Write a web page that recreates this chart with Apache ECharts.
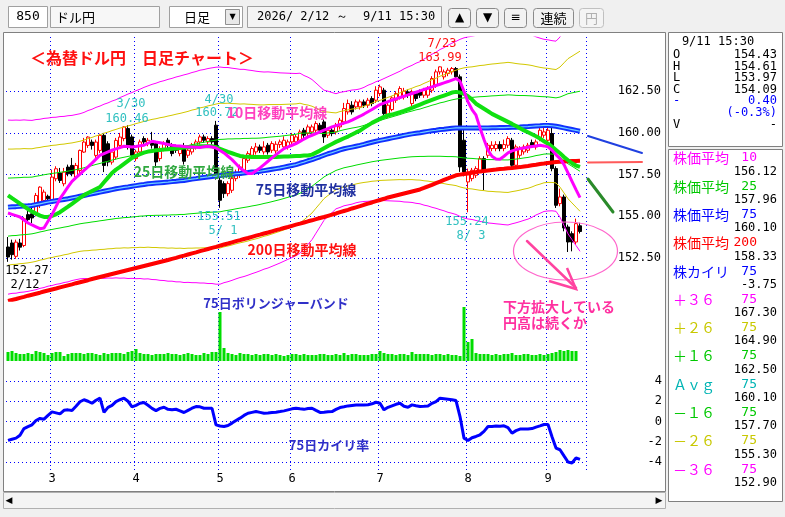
<!DOCTYPE html>
<html><head><meta charset="utf-8">
<script src="https://cdn.jsdelivr.net/npm/echarts@6/dist/echarts.min.js"></script>
<style>html,body{margin:0;padding:0;background:#f0f0f0;overflow:hidden}#c{width:785px;height:517px}</style>
</head><body><div id="c"></div><script>
const dates = ['2/12','2/13','2/16','2/17','2/18','2/19','2/20','2/24','2/25','2/26','2/27',
'3/2','3/3','3/4','3/5','3/6','3/9','3/10','3/11','3/12','3/13','3/16','3/17','3/18','3/19','3/23','3/24','3/25','3/26','3/27','3/30','3/31',
'4/1','4/2','4/3','4/6','4/7','4/8','4/9','4/10','4/13','4/14','4/15','4/16','4/17','4/20','4/21','4/22','4/23','4/24','4/27','4/28','4/30',
'5/1','5/7','5/8','5/11','5/12','5/13','5/14','5/15','5/18','5/19','5/20','5/21','5/22','5/25','5/26','5/27','5/28','5/29',
'6/1','6/2','6/3','6/4','6/5','6/8','6/9','6/10','6/11','6/12','6/15','6/16','6/17','6/18','6/19','6/22','6/23','6/24','6/25','6/26','6/29','6/30',
'7/1','7/2','7/3','7/6','7/7','7/8','7/9','7/10','7/13','7/14','7/15','7/16','7/17','7/21','7/22','7/23','7/24','7/27','7/28','7/29','7/30','7/31',
'8/3','8/4','8/5','8/6','8/7','8/10','8/12','8/13','8/14','8/17','8/18','8/19','8/20','8/21','8/24','8/25','8/26','8/27','8/28','8/31',
'9/1','9/2','9/3','9/4','9/7','9/8','9/9','9/10','9/11'];

const open = [153.16,153.40,152.60,153.40,153.25,155.10,155.15,155.15,155.75,155.95,
156.20,155.95,157.25,157.60,156.95,157.95,158.05,157.35,157.75,158.85,
159.25,159.45,158.65,158.95,159.85,159.35,158.25,158.55,159.25,159.66,
160.26,159.76,158.46,158.86,159.66,159.36,159.46,159.36,158.46,159.06,
159.56,159.26,159.16,158.76,159.20,158.66,158.86,159.16,159.46,159.76,
159.46,159.66,160.46,157.16,156.96,156.36,156.56,157.26,157.46,157.76,
158.36,158.66,158.86,159.16,158.86,159.26,158.96,158.92,159.30,159.16,
159.16,159.46,159.46,159.56,160.16,159.96,160.06,160.16,160.46,160.66,
159.86,160.16,160.06,160.36,160.66,161.26,161.66,161.56,161.56,161.86,
161.66,162.06,161.96,162.36,162.56,161.06,161.40,161.96,162.16,162.16,
162.46,161.76,162.36,162.46,162.26,162.26,162.56,162.86,163.66,163.36,
163.56,163.66,163.86,163.36,159.56,157.06,157.26,157.46,157.76,158.46,
158.66,159.06,159.06,159.30,159.06,159.26,159.56,158.06,158.66,158.86,
158.96,159.42,159.16,159.66,159.86,159.56,159.96,157.86,155.76,156.16,
154.36,153.96,153.46,154.43];
const close = [152.56,152.70,153.45,153.15,154.85,154.80,154.90,156.25,156.75,156.45,
156.05,157.35,157.85,157.15,157.65,157.55,157.55,158.05,158.95,159.45,
159.75,159.25,159.45,159.85,158.05,158.25,158.85,159.55,159.75,160.36,
159.26,158.66,158.86,159.46,159.46,159.56,159.26,158.26,159.06,159.36,
159.26,158.76,158.96,159.06,158.30,158.96,159.26,159.46,159.76,159.56,
159.66,159.46,157.36,155.96,156.36,156.96,157.26,157.60,157.96,158.46,
158.76,159.06,159.16,158.96,159.16,158.86,159.36,159.32,159.46,159.56,
159.46,159.86,159.76,160.06,159.86,160.36,160.36,160.56,160.16,159.76,
160.16,159.96,160.46,160.76,161.46,161.76,161.26,161.86,161.86,161.66,
161.96,161.76,162.56,162.76,161.16,161.66,162.10,162.36,162.66,162.50,
162.26,162.46,162.06,162.26,162.56,162.66,163.26,163.66,163.96,163.66,
163.76,163.86,163.36,157.96,157.66,157.66,157.76,157.86,158.46,157.76,
159.26,159.26,159.30,159.06,159.30,159.66,158.06,159.16,159.06,159.16,
159.26,159.26,159.46,160.16,160.06,160.16,157.86,155.66,156.16,154.30,
153.46,153.46,154.56,154.09];
const low = [152.27,152.40,152.45,152.95,153.15,154.60,154.60,155.00,155.50,155.80,
155.90,155.90,157.10,157.00,156.80,157.40,157.40,157.20,157.60,158.80,
159.10,159.00,158.50,158.80,157.65,158.00,158.10,158.40,159.10,159.50,
159.00,158.50,158.30,158.70,159.30,159.20,159.06,157.90,158.30,158.90,
159.10,158.60,158.80,158.60,158.10,158.50,158.70,159.00,159.30,159.40,
159.30,159.30,157.20,155.51,156.10,156.20,156.40,157.10,157.30,157.60,
158.20,158.50,158.70,158.80,158.70,158.70,158.80,158.70,159.10,159.00,
159.00,159.30,159.30,159.40,159.70,159.80,159.90,160.00,160.00,159.40,
159.70,159.80,159.90,160.20,160.50,161.10,161.10,161.40,161.40,161.50,
161.50,161.60,161.80,162.20,160.90,160.90,161.30,161.80,162.00,162.00,
162.10,161.60,161.90,162.10,162.10,162.10,162.40,162.70,163.50,163.20,
163.40,163.50,163.20,157.66,157.40,155.24,157.10,157.30,157.60,156.56,
158.50,158.90,158.90,158.90,158.90,159.10,157.90,157.90,158.50,158.70,
158.80,159.10,159.00,159.50,159.70,159.40,157.70,155.50,155.60,154.10,
152.86,152.90,153.30,153.97];
const high = [153.76,153.60,153.60,153.65,154.95,155.40,155.50,156.40,156.80,156.60,
156.30,157.80,158.00,157.90,157.90,158.10,158.50,158.20,159.00,159.70,
159.80,159.60,159.60,159.95,160.00,159.50,159.00,159.70,160.00,160.40,
160.46,159.90,159.00,159.60,159.80,159.70,160.06,159.46,159.20,159.50,
159.70,159.40,159.30,159.20,159.40,159.10,159.40,159.60,159.90,159.90,
159.80,159.80,160.72,157.30,157.10,157.10,157.40,157.80,158.10,158.60,
158.90,159.20,159.40,159.30,159.50,159.40,159.50,159.50,159.60,159.80,
159.60,160.00,159.90,160.20,160.30,160.50,160.50,160.70,160.60,160.80,
160.30,160.30,160.60,160.90,161.80,162.00,161.90,162.00,162.00,162.00,
162.10,162.20,162.80,162.90,162.70,161.80,162.20,162.50,162.80,162.70,
162.60,162.60,162.50,162.60,162.70,162.80,163.40,163.80,163.99,163.80,
163.90,163.95,163.95,163.50,160.30,157.86,157.90,158.00,158.60,158.60,
159.40,159.50,159.50,159.50,159.60,159.80,159.70,159.30,159.20,159.30,
159.40,159.60,159.60,160.30,160.30,160.46,160.50,158.00,156.66,156.30,
154.50,154.10,154.86,154.61];

const ma10 = [155.20,155.12,155.04,154.96,154.78,154.60,154.48,154.37,154.26,154.30,
154.70,155.10,155.58,156.06,156.41,156.76,157.10,157.32,157.53,157.75,
157.96,158.19,158.43,158.66,158.76,158.86,158.96,159.04,159.12,159.20,
159.18,159.16,159.19,159.23,159.26,159.38,159.50,159.45,159.41,159.36,
159.31,159.26,159.23,159.21,159.18,159.16,159.15,159.14,159.13,159.17,
159.20,159.15,159.10,158.95,158.80,158.60,158.40,158.15,157.90,157.73,
157.56,157.56,157.73,157.90,158.10,158.30,158.50,158.70,158.88,159.06,
159.16,159.26,159.36,159.49,159.63,159.76,159.86,159.96,160.06,160.16,
160.26,160.36,160.44,160.51,160.59,160.66,160.77,160.89,161.00,161.13,
161.27,161.40,161.55,161.70,161.79,161.87,161.96,162.04,162.12,162.20,
162.28,162.36,162.44,162.52,162.60,162.68,162.76,162.84,162.92,163.00,
163.08,163.17,163.26,163.10,162.50,161.86,161.40,161.06,160.30,159.60,
158.96,158.60,158.44,158.42,158.60,158.80,158.92,159.00,159.06,159.10,
159.14,159.18,159.22,159.26,159.22,159.16,158.96,158.70,158.45,158.10,
157.60,157.10,156.60,156.12];
const ma25 = [156.26,156.09,155.93,155.76,155.60,155.43,155.28,155.16,155.04,154.96,
154.96,155.03,155.12,155.25,155.42,155.58,155.75,155.92,156.10,156.27,
156.40,156.52,156.64,156.76,157.04,157.32,157.60,157.80,157.96,158.14,
158.32,158.50,158.62,158.72,158.82,158.88,158.92,158.96,158.98,159.00,
159.02,159.05,159.07,159.10,159.12,159.14,159.16,159.18,159.20,159.20,
159.20,159.20,159.15,159.05,158.95,158.86,158.78,158.70,158.62,158.58,
158.57,158.56,158.56,158.56,158.56,158.56,158.56,158.56,158.57,158.58,
158.59,158.60,158.61,158.62,158.64,158.65,158.70,158.82,158.94,159.08,
159.22,159.34,159.46,159.57,159.68,159.78,159.90,160.03,160.14,160.30,
160.45,160.60,160.72,160.84,160.96,161.06,161.10,161.17,161.24,161.32,
161.41,161.50,161.60,161.70,161.80,161.89,161.98,162.07,162.16,162.24,
162.32,162.42,162.46,162.42,162.34,162.20,162.00,161.75,161.60,161.45,
161.30,161.14,161.02,160.90,160.78,160.66,160.54,160.41,160.28,160.15,
160.04,159.92,159.80,159.66,159.50,159.35,159.18,158.98,158.78,158.56,
158.36,158.18,158.04,157.96];
const ma75 = [155.55,155.57,155.58,155.60,155.62,155.63,155.65,155.70,155.75,155.80,
155.85,155.89,155.93,155.97,156.01,156.05,156.10,156.15,156.20,156.25,
156.30,156.35,156.40,156.45,156.50,156.55,156.60,156.65,156.69,156.73,
156.76,156.80,156.84,156.88,156.91,156.95,156.97,156.99,157.01,157.03,
157.05,157.08,157.10,157.13,157.15,157.19,157.23,157.26,157.30,157.33,
157.36,157.39,157.41,157.44,157.47,157.50,157.52,157.55,157.57,157.60,
157.62,157.65,157.67,157.70,157.74,157.78,157.82,157.86,157.90,157.95,
158.00,158.05,158.10,158.18,158.25,158.33,158.40,158.49,158.57,158.66,
158.75,158.82,158.90,158.98,159.05,159.10,159.15,159.20,159.25,159.31,
159.38,159.44,159.50,159.55,159.60,159.65,159.70,159.75,159.80,159.85,
159.90,159.94,159.98,160.01,160.05,160.09,160.13,160.16,160.20,160.22,
160.25,160.28,160.30,160.30,160.30,160.30,160.30,160.30,160.30,160.30,
160.30,160.31,160.31,160.32,160.32,160.33,160.34,160.34,160.35,160.37,
160.38,160.40,160.42,160.43,160.45,160.45,160.43,160.40,160.35,160.30,
160.25,160.20,160.15,160.10];
const ma200 = [149.92,149.98,150.04,150.11,150.17,150.24,150.30,150.36,150.42,150.49,
150.55,150.61,150.67,150.74,150.80,150.86,150.92,150.99,151.05,151.11,
151.17,151.24,151.30,151.36,151.42,151.48,151.54,151.60,151.66,151.72,
151.78,151.84,151.90,151.96,152.02,152.08,152.14,152.20,152.26,152.32,
152.38,152.45,152.51,152.58,152.64,152.71,152.78,152.84,152.91,152.97,
153.04,153.11,153.17,153.24,153.31,153.37,153.44,153.51,153.57,153.64,
153.70,153.77,153.84,153.90,153.97,154.03,154.10,154.17,154.23,154.30,
154.36,154.43,154.50,154.56,154.63,154.70,154.76,154.83,154.90,154.96,
155.03,155.10,155.17,155.25,155.32,155.39,155.47,155.54,155.61,155.69,
155.76,155.83,155.91,155.98,156.05,156.13,156.19,156.25,156.31,156.37,
156.43,156.49,156.55,156.61,156.70,156.80,156.89,156.99,157.08,157.18,
157.27,157.37,157.46,157.50,157.54,157.57,157.61,157.65,157.68,157.72,
157.75,157.78,157.80,157.83,157.85,157.88,157.90,157.93,157.95,157.99,
158.02,158.06,158.09,158.13,158.16,158.20,158.23,158.26,158.27,158.28,
158.30,158.31,158.32,158.33];
const bbP1 = [157.29,157.30,157.31,157.32,157.34,157.34,157.35,157.40,157.44,157.49,
157.53,157.57,157.60,157.64,157.67,157.71,157.75,157.80,157.85,157.91,
157.98,158.04,158.11,158.17,158.24,158.30,158.37,158.43,158.49,158.54,
158.59,158.64,158.70,158.75,158.80,158.85,158.89,158.92,158.96,158.99,
159.03,159.07,159.11,159.15,159.19,159.24,159.30,159.34,159.40,159.44,
159.49,159.53,159.57,159.61,159.62,159.64,159.64,159.65,159.65,159.67,
159.67,159.68,159.68,159.69,159.71,159.74,159.76,159.78,159.80,159.83,
159.86,159.89,159.92,159.98,159.98,160.00,160.00,159.99,159.97,159.96,
160.00,160.02,160.05,160.13,160.19,160.24,160.29,160.33,160.38,160.45,
160.54,160.61,160.69,160.75,160.82,160.89,160.96,161.03,161.10,161.18,
161.25,161.31,161.38,161.43,161.51,161.58,161.66,161.72,161.80,161.85,
161.92,161.98,162.03,162.07,162.10,162.12,162.13,162.15,162.17,162.18,
162.20,162.22,162.23,162.25,162.26,162.28,162.27,162.25,162.24,162.24,
162.23,162.22,162.20,162.18,162.17,162.16,162.13,162.10,162.15,162.25,
162.35,162.40,162.45,162.50];
const bbP2 = [159.03,159.03,159.04,159.04,159.06,159.05,159.05,159.10,159.13,159.18,
159.21,159.25,159.27,159.31,159.33,159.37,159.40,159.45,159.50,159.57,
159.66,159.73,159.82,159.89,159.98,160.05,160.14,160.21,160.29,160.35,
160.42,160.48,160.56,160.62,160.69,160.75,160.81,160.85,160.91,160.95,
161.01,161.06,161.12,161.17,161.23,161.29,161.37,161.42,161.50,161.55,
161.62,161.67,161.73,161.78,161.77,161.78,161.76,161.75,161.73,161.74,
161.72,161.71,161.69,161.68,161.68,161.70,161.70,161.70,161.70,161.71,
161.72,161.73,161.74,161.78,161.71,161.67,161.60,161.49,161.37,161.26,
161.25,161.22,161.20,161.28,161.33,161.38,161.43,161.46,161.51,161.59,
161.70,161.78,161.88,161.95,162.04,162.13,162.22,162.31,162.40,162.51,
162.60,162.68,162.78,162.85,162.97,163.07,163.19,163.28,163.40,163.48,
163.59,163.68,163.76,163.84,163.90,163.94,163.96,164.00,164.04,164.06,
164.10,164.13,164.15,164.18,164.20,164.23,164.20,164.16,164.13,164.11,
164.08,164.04,163.98,163.93,163.89,163.87,163.83,163.80,163.95,164.20,
164.45,164.60,164.75,164.90];
const bbP3 = [160.77,160.76,160.77,160.76,160.78,160.76,160.75,160.80,160.82,160.87,
160.89,160.93,160.94,160.98,160.99,161.03,161.05,161.10,161.15,161.23,
161.34,161.42,161.53,161.61,161.72,161.80,161.91,161.99,162.12,162.22,
162.33,162.42,162.53,162.62,162.73,162.82,162.91,162.98,163.07,163.13,
163.21,163.27,163.35,163.41,163.48,163.54,163.62,163.68,163.76,163.80,
163.86,163.90,163.94,163.95,163.92,163.92,163.88,163.85,163.81,163.81,
163.77,163.74,163.70,163.67,163.65,163.66,163.64,163.62,163.60,163.59,
163.58,163.57,163.56,163.58,163.44,163.34,163.20,162.99,162.77,162.56,
162.50,162.42,162.35,162.43,162.47,162.52,162.57,162.59,162.64,162.73,
162.86,162.95,163.07,163.15,163.26,163.37,163.48,163.59,163.70,163.84,
163.95,164.05,164.18,164.27,164.43,164.56,164.72,164.84,165.00,165.11,
165.26,165.38,165.49,165.61,165.70,165.76,165.79,165.85,165.91,165.94,
166.00,166.04,166.07,166.11,166.14,166.18,166.13,166.07,166.02,165.98,
165.93,165.86,165.76,165.68,165.61,165.58,165.53,165.50,165.75,166.15,
166.55,166.80,167.05,167.30];
const bbM1 = [153.81,153.84,153.85,153.88,153.90,153.92,153.95,154.00,154.06,154.11,
154.17,154.21,154.26,154.30,154.35,154.39,154.45,154.50,154.55,154.59,
154.62,154.66,154.69,154.73,154.76,154.80,154.83,154.87,154.89,154.92,
154.93,154.96,154.98,155.01,155.02,155.05,155.05,155.06,155.06,155.07,
155.07,155.09,155.09,155.11,155.11,155.14,155.16,155.18,155.20,155.22,
155.23,155.25,155.25,155.27,155.32,155.36,155.40,155.45,155.49,155.53,
155.57,155.62,155.66,155.71,155.77,155.82,155.88,155.94,156.00,156.07,
156.14,156.21,156.28,156.38,156.52,156.66,156.80,156.99,157.17,157.36,
157.50,157.62,157.75,157.83,157.91,157.96,158.01,158.07,158.12,158.17,
158.22,158.27,158.31,158.35,158.38,158.41,158.44,158.47,158.50,158.52,
158.55,158.57,158.58,158.59,158.59,158.60,158.60,158.60,158.60,158.59,
158.58,158.58,158.57,158.53,158.50,158.48,158.47,158.45,158.43,158.42,
158.40,158.40,158.39,158.39,158.38,158.38,158.41,158.43,158.46,158.50,
158.53,158.58,158.64,158.68,158.73,158.74,158.73,158.70,158.55,158.35,
158.15,158.00,157.85,157.70];
const bbM2 = [152.07,152.11,152.12,152.16,152.18,152.21,152.25,152.30,152.37,152.42,
152.49,152.53,152.59,152.63,152.69,152.73,152.80,152.85,152.90,152.93,
152.94,152.97,152.98,153.01,153.02,153.05,153.06,153.09,153.09,153.11,
153.10,153.12,153.12,153.14,153.13,153.15,153.13,153.13,153.11,153.11,
153.09,153.10,153.08,153.09,153.07,153.09,153.09,153.10,153.10,153.11,
153.10,153.11,153.09,153.10,153.17,153.22,153.28,153.35,153.41,153.46,
153.52,153.59,153.65,153.72,153.80,153.86,153.94,154.02,154.10,154.19,
154.28,154.37,154.46,154.58,154.79,154.99,155.20,155.49,155.77,156.06,
156.25,156.42,156.60,156.68,156.77,156.82,156.87,156.94,156.99,157.03,
157.06,157.10,157.12,157.15,157.16,157.17,157.18,157.19,157.20,157.19,
157.20,157.20,157.18,157.17,157.13,157.11,157.07,157.04,157.00,156.96,
156.91,156.88,156.84,156.76,156.70,156.66,156.64,156.60,156.56,156.54,
156.50,156.49,156.47,156.46,156.44,156.43,156.48,156.52,156.57,156.63,
156.68,156.76,156.86,156.93,157.01,157.03,157.03,157.00,156.75,156.40,
156.05,155.80,155.55,155.30];
const bbM3 = [150.33,150.38,150.39,150.44,150.46,150.50,150.55,150.60,150.68,150.73,
150.81,150.85,150.92,150.96,151.03,151.07,151.15,151.20,151.25,151.27,
151.26,151.28,151.27,151.29,151.28,151.30,151.29,151.31,151.29,151.30,
151.27,151.28,151.26,151.27,151.24,151.25,151.21,151.20,151.16,151.15,
151.11,151.11,151.07,151.07,151.03,151.04,151.02,151.02,151.00,151.00,
150.97,150.97,150.93,150.93,151.02,151.08,151.16,151.25,151.33,151.39,
151.47,151.56,151.64,151.73,151.83,151.90,152.00,152.10,152.20,152.31,
152.42,152.53,152.64,152.78,153.06,153.32,153.60,153.99,154.37,154.76,
155.00,155.22,155.45,155.53,155.63,155.68,155.73,155.81,155.86,155.89,
155.90,155.93,155.93,155.95,155.94,155.93,155.92,155.91,155.90,155.86,
155.85,155.83,155.78,155.75,155.67,155.62,155.54,155.48,155.40,155.33,
155.24,155.18,155.11,154.99,154.90,154.84,154.81,154.75,154.69,154.66,
154.60,154.58,154.55,154.53,154.50,154.48,154.55,154.61,154.68,154.76,
154.83,154.94,155.08,155.18,155.29,155.32,155.33,155.30,154.95,154.45,
153.95,153.60,153.25,152.90];
const volume = [9,10,8,7,7,8,7,10,9,8,6,8,
9,9,5,7,8,8,8,7,8,8,7,6,8,7,8,8,8,7,9,10,
12,8,7,7,6,7,7,7,8,7,7,6,7,8,7,6,6,8,7,9,9,
49,13,8,7,6,8,7,7,6,7,
6,7,7,6,7,6,5,6,7,7,
6,7,6,6,6,7,7,6,6,7,
6,8,6,7,7,6,6,6,7,7,
10,8,7,7,6,7,7,6,9,7,
7,7,7,6,7,7,6,7,6,6,
5,54,19,22,8,7,7,7,6,7,
6,7,7,8,6,6,7,7,6,6,
7,6,7,8,9,11,10,11,10,10,
null];
const kairi = [-1.87,-1.75,-1.64,-1.35,-0.70,-0.50,-0.33,0.10,0.30,0.23,
0.60,0.95,0.85,0.75,1.10,1.15,1.08,1.50,1.95,2.15,
2.00,1.80,2.10,2.30,0.90,1.40,1.60,1.97,2.15,2.30,
2.00,1.45,1.60,1.80,1.87,1.60,1.30,1.08,1.30,1.41,
1.20,1.15,1.21,1.05,0.89,1.10,1.31,1.48,1.45,1.31,
1.30,1.31,-0.33,-0.45,-0.49,-0.40,-0.16,0.10,0.33,0.60,
0.82,0.90,0.98,0.90,0.82,0.85,0.89,0.92,0.98,1.05,
1.15,1.25,1.31,1.25,1.20,1.28,1.31,1.10,0.90,0.92,
0.96,0.98,1.20,1.38,1.45,1.54,1.58,1.62,1.64,1.64,
1.65,1.75,1.90,1.80,1.15,1.40,1.55,1.70,1.80,1.50,
1.41,1.64,1.55,1.48,1.50,1.54,1.80,1.97,2.30,2.25,
2.20,2.15,2.07,0.49,-1.64,-1.87,-1.60,-1.48,-1.31,-0.98,
-0.49,-0.50,-0.45,-0.47,-0.43,-0.60,-1.15,-0.90,-0.75,-0.75,
-0.75,-0.70,-0.55,-0.43,-0.30,-0.30,-1.50,-2.62,-2.79,-3.40,
-4.00,-4.10,-3.60,-3.75];

const priceTicks = [152.5, 162.5, 2.5];   // min, max, step of the labelled price scale
const kairiTicks = [-4, 4, 2];
const infoOHLC = [['O','154.43'],['H','154.61'],['L','153.97'],['C','154.09']];
const infoRows = [
  ['株価平均','10','156.12','#ff00ff'],['株価平均','25','157.96','#00c800'],
  ['株価平均','75','160.10','#0000ff'],['株価平均','200','158.33','#ff0000'],
  ['株カイリ','75','-3.75','#0000ff'],['＋３６','75','167.30','#ff00ff'],
  ['＋２６','75','164.90','#c8c800'],['＋１６','75','162.50','#00c800'],
  ['Ａｖｇ','75','160.10','#00b4b4'],['－１６','75','157.70','#00c800'],
  ['－２６','75','155.30','#c8c800'],['－３６','75','152.90','#ff00ff']];

// ---------------- layout ----------------
const cats = dates.concat(['']);
const month = d => d ? d.split('/')[0] : '';
const isMonthStart = i => i > 0 && !!cats[i] && month(cats[i]) !== month(cats[i-1]);
const GL = 6, GW = 580;
const mono = '"DejaVu Sans Mono", monospace';
const jp = '"Noto Sans CJK JP", sans-serif';
const dot = {color:'#0000ff', width:1, type:[1,3]};

function xa(gi, extra) {
  return Object.assign({type:'category', gridIndex:gi, data:cats, boundaryGap:true,
    axisLine:{show:false}, axisTick:{show:false}, axisLabel:{show:false}, splitLine:{show:false}}, extra||{});
}
function ya(gi, extra) {
  return Object.assign({type:'value', gridIndex:gi, scale:true,
    axisLine:{show:false}, axisTick:{show:false}, axisLabel:{show:false}, splitLine:{show:false}}, extra||{});
}
function line(name, data, color, width, xi, extra) {
  return Object.assign({type:'line', name:name, data:data, xAxisIndex:xi||0, yAxisIndex:xi||0,
    symbol:'none', smooth:false, silent:true, lineStyle:{color:color, width:width}}, extra||{});
}
function T(x, y, text, fill, font, align, z) {
  return {type:'text', x:x, y:y, z:z||60, silent:true,
    style:{text:text, fill:fill, font:font, align:align||'left', textAlign:align||'left',
      verticalAlign:'middle', textVerticalAlign:'middle'}};
}
function R(x, y, w, h, fill, stroke, z, r) {
  return {type:'rect', z:z==null?-5:z, silent:true, shape:{x:x, y:y, width:w, height:h, r:r||0},
    style:{fill:fill, stroke:stroke||null, lineWidth:1}};
}
function L(x1, y1, x2, y2, stroke, w, z) {
  return {type:'line', z:z||40, silent:true, shape:{x1:x1,y1:y1,x2:x2,y2:y2},
    style:{stroke:stroke, lineWidth:w, lineCap:'round'}};
}

const g = [];
// toolbar
g.push(R(0,0,785,32,'#f0f0f0',null,-9));
g.push(R(8.5,6.5,39,21,'#ffffff','#a0a0a0',-4));
g.push(T(28,17,'850','#000','13px '+mono,'center'));
g.push(R(50.5,6.5,109,21,'#f7f7f7','#a0a0a0',-4));
g.push(T(56,17,'ドル円','#000','13px '+jp));
g.push(R(169.5,6.5,73,21,'#ffffff','#a0a0a0',-4));
g.push(T(184,17,'日足','#000','13px '+jp));
g.push(R(225.5,9.5,14,15,'#e8e8e8','#909090',-3));
g.push(T(232.5,17,'▼','#000','8px "DejaVu Sans"','center'));
g.push(R(247.5,6.5,194,21,'#f4f4f4','#a0a0a0',-4));
g.push(T(257,17,'2026/ 2/12 ～  9/11 15:30','#000','12px '+mono));
[[448,'▲'],[476,'▼'],[504,'≡']].forEach(b => {
  g.push(R(b[0]+0.5,8.5,22,19,'#f2f2f2','#8a8a8a',-4,3));
  g.push(T(b[0]+11.5,18,b[1],'#000','12px "DejaVu Sans"','center'));
});
g.push(R(533.5,8.5,40,19,'#f2f2f2','#8a8a8a',-4,3));
g.push(T(553.5,18,'連続','#000','13px '+jp,'center'));
g.push(R(579.5,8.5,24,19,'#f4f4f4','#c0c0c0',-4,3));
g.push(T(591.5,18,'円','#b0b0b0','13px '+jp,'center'));
// chart frame
g.push(R(0,32,785,485,'#f0f0f0',null,-9));
g.push(R(3.5,32.5,662,459,'#ffffff','#808080',-5));
g.push(R(3.5,492.5,662,16,'#f4f4f4','#b0b0b0',-5));
g.push(T(9,500.5,'◀','#000','9px "DejaVu Sans"','center'));
g.push(T(659,500.5,'▶','#000','9px "DejaVu Sans"','center'));
// info panel
g.push(R(668.5,32.5,114,114,'#ffffff','#808080',-5));
g.push(R(668.5,149.5,114,352,'#ffffff','#808080',-5));
g.push(T(718,42,'9/11 15:30','#000','12px '+mono,'center'));
infoOHLC.forEach((r,k) => {
  g.push(T(673,55+k*11.5,r[0],'#000','12px '+mono));
  g.push(T(777,55+k*11.5,r[1],'#000','12px '+mono,'right'));
});
g.push(T(673,101,'-','#0000ff','12px '+mono));
g.push(T(777,101,'0.40','#0000ff','12px '+mono,'right'));
g.push(T(777,113,'(-0.3%)','#0000ff','12px '+mono,'right'));
g.push(T(673,125,'V','#000','12px '+mono));
g.push(T(777,125,'-','#000','12px '+mono,'right'));
infoRows.forEach((r,k) => {
  const y = 158 + k*28.3;
  g.push(T(673,y,r[0],r[3],'14px '+jp));
  g.push(T(757,y,r[1],r[3],'13px '+mono,'right'));
  g.push(T(777,y+13.5,r[2],'#000','12px '+mono,'right'));
});
// chart annotations
g.push(T(142,58,'＜為替ドル円　日足チャート＞','#ff1010','bold 16px '+jp,'center'));
g.push(T(131,104,'3/30','#30c0c0','12px '+mono,'center'));
g.push(T(127,119,'160.46','#30c0c0','12px '+mono,'center'));
g.push(T(219,100,'4/30','#30c0c0','12px '+mono,'center'));
g.push(T(217,113,'160.72','#30c0c0','12px '+mono,'center'));
g.push(T(277,113,'10日移動平均線','#ff40c0','bold 14px '+jp,'center',61));
g.push(T(184,172,'25日移動平均線','#30a840','bold 14px '+jp,'center'));
g.push(T(306,190,'75日移動平均線','#2030a0','bold 14px '+jp,'center'));
g.push(T(302,250,'200日移動平均線','#ff1010','bold 14px '+jp,'center'));
g.push(T(219,217,'155.51','#30c0c0','12px '+mono,'center'));
g.push(T(223,231,'5/ 1','#30c0c0','12px '+mono,'center'));
g.push(T(467,222,'155.24','#30c0c0','12px '+mono,'center'));
g.push(T(471,236,'8/ 3','#30c0c0','12px '+mono,'center'));
g.push(T(442,44,'7/23','#ff1010','12px '+mono,'center'));
g.push(T(440,58,'163.99','#ff1010','12px '+mono,'center'));
g.push(T(27,271,'152.27','#000','12px '+mono,'center'));
g.push(T(25,285,'2/12','#000','12px '+mono,'center'));
g.push(T(276,303,'75日ボリンジャーバンド','#3030c8','bold 13px '+jp,'center'));
g.push(T(503,307,'下方拡大している','#ff30a0','bold 14px '+jp));
g.push(T(503,323,'円高は続くか','#ff30a0','bold 14px '+jp));
g.push(T(329,445,'75日カイリ率','#3030c8','bold 13px '+jp,'center'));
g.push(L(588,136,642,153,'#2040e0',2));
g.push(L(588,162.5,642,162,'#ff5a5a',2));
g.push(L(588,179,613,212,'#2a8a2a',3));
g.push({type:'ellipse', z:40, silent:true, shape:{cx:565.5,cy:251,rx:52,ry:29},
  style:{fill:'rgba(0,0,0,0)', stroke:'#ff66cc', lineWidth:1.2}});
g.push(L(527,241,576,288,'#ff44a0',2.5));
g.push({type:'polyline', z:40, silent:true, shape:{points:[[549,281],[576,289],[567,268]]},
  style:{fill:null, stroke:'#ff44a0', lineWidth:2.5}});

const candle = dates.map((d,i) => [open[i], close[i], low[i], high[i]]);

const option = {
  animation:false,
  backgroundColor:'#f0f0f0',
  grid:[
    {left:GL, top:37, width:GW, height:262.7, outerBoundsMode:'none', containLabel:false},
    {left:GL, top:91.2, width:GW-2, height:166.8, outerBoundsMode:'none', containLabel:false},
    {left:GL, top:37, width:GW, height:433, outerBoundsMode:'none', containLabel:false},
    {left:GL, top:300, width:GW, height:61, outerBoundsMode:'none', containLabel:false},
    {left:GL, top:381, width:GW, height:81, outerBoundsMode:'none', containLabel:false}
  ],
  xAxis:[
    xa(0), xa(1),
    xa(2, {splitLine:{show:true, interval:(i)=>isMonthStart(i), lineStyle:dot},
      axisLabel:{show:true, interval:(i)=>isMonthStart(i), formatter:(v)=>month(v),
        color:'#000', fontFamily:'DejaVu Sans Mono', fontSize:12, margin:3}}),
    xa(3), xa(4)
  ],
  yAxis:[
    ya(0, {min:150, max:165.75}),
    ya(1, {min:priceTicks[0], max:priceTicks[1], interval:priceTicks[2], position:'right',
      splitLine:{show:true, lineStyle:dot},
      axisLabel:{show:true, align:'right', margin:77, formatter:(v)=>v.toFixed(2),
        color:'#000', fontFamily:'DejaVu Sans Mono', fontSize:12}}),
    ya(2, {min:0, max:1}),
    ya(3, {min:0, max:61}),
    ya(4, {min:kairiTicks[0], max:kairiTicks[1], interval:kairiTicks[2], position:'right',
      splitLine:{show:true, lineStyle:dot},
      axisLabel:{show:true, align:'right', margin:76, formatter:(v)=>String(v),
        color:'#000', fontFamily:'DejaVu Sans Mono', fontSize:12}})
  ],
  series:[
    line('+3σ', bbP3, '#ff00ff', 1),
    line('+2σ', bbP2, '#d2c800', 1),
    line('+1σ', bbP1, '#00dd00', 1),
    line('-1σ', bbM1, '#00dd00', 1),
    line('-2σ', bbM2, '#d2c800', 1),
    line('-3σ', bbM3, '#ff00ff', 1),
    line('MA200', ma200, '#ff0000', 4),
    line('MA75', ma75, '#1030ff', 5),
    line('MA75c', ma75, '#70d0ff', 1.2),
    {type:'candlestick', name:'USDJPY', data:candle, xAxisIndex:0, yAxisIndex:0, barWidth:3, silent:true,
      itemStyle:{color:'#ffffff', color0:'#000000', borderColor:'#ff0000', borderColor0:'#000000', borderWidth:1}},
    line('MA25', ma25, '#10e010', 4),
    line('MA10', ma10, '#ff00ff', 3),
    {type:'bar', name:'Volume', data:volume, xAxisIndex:3, yAxisIndex:3, barWidth:3, silent:true,
      itemStyle:{color:'#00dd00'}},
    line('Kairi', kairi, '#0000ff', 3, 4, {clip:false})
  ],
  graphic: g
};
const chart = echarts.init(document.getElementById('c'), null, {renderer:'canvas'});
chart.setOption(option);
</script></body></html>
